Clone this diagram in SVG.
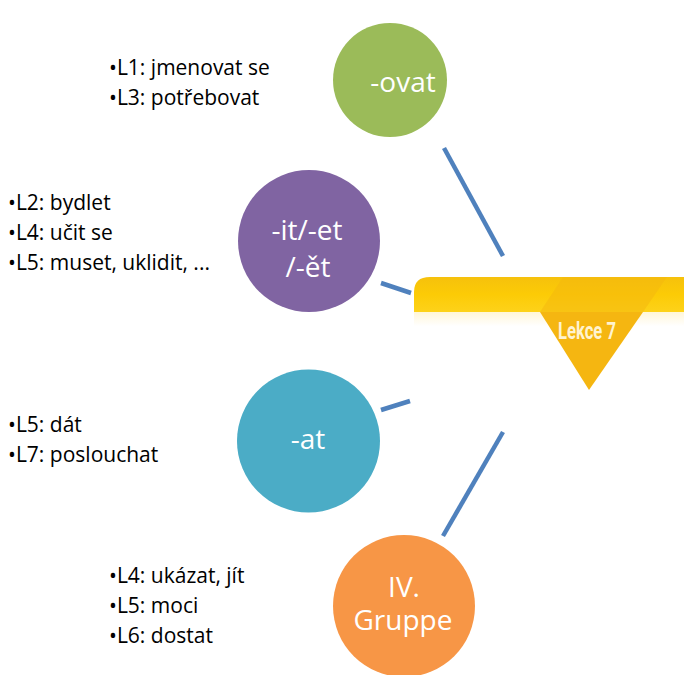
<svg xmlns="http://www.w3.org/2000/svg" width="684" height="675" viewBox="0 0 684 675">
<defs>
<style>
.lbl{font-family:"Open Sans","Noto Sans",sans-serif;font-size:21px;fill:#000}
.ct{font-family:"Open Sans","Noto Sans",sans-serif;font-size:28px;fill:#fff;text-anchor:middle}
.con{stroke:#4F81BD;stroke-width:4.5;fill:none}
</style>
<linearGradient id="band" x1="0" y1="0" x2="0" y2="1">
<stop offset="0" stop-color="#F6C10C"/>
<stop offset="0.5" stop-color="#FCCB06"/>
<stop offset="1" stop-color="#FDD21A"/>
</linearGradient>
<linearGradient id="fade" x1="0" y1="0" x2="0" y2="1">
<stop offset="0" stop-color="#FFF6D8"/>
<stop offset="0.15" stop-color="#FFFFFF"/>
</linearGradient>
</defs>
<rect width="684" height="675" fill="#fff"/>
<g id="connectors">
<line class="con" x1="444" y1="148" x2="503" y2="256"/>
<line class="con" x1="381" y1="283" x2="411" y2="293"/>
<line class="con" x1="381" y1="410" x2="410" y2="401"/>
<line class="con" x1="443" y1="536" x2="503" y2="432"/>
</g>
<g id="lekce7">
<path d="M414 312 V292 Q414 277 430 277 H684 V312 Z" fill="url(#band)"/>
<rect x="414" y="312" width="270" height="95" fill="url(#fade)"/>
<polygon points="563,277 667,277 643,312 540,312" fill="#F4B80E" opacity="0.55"/>
<polygon points="540,312 643,312 589,390" fill="#F5B611"/>
<text x="558" y="339" textLength="58" lengthAdjust="spacingAndGlyphs" font-family="Roboto,'Liberation Sans',sans-serif" font-weight="bold" font-size="23" fill="#FFF3D0">Lekce 7</text>
</g>
<g id="ovat">
<circle cx="390" cy="80" r="57" fill="#9BBB59"/>
<text class="ct" x="403" y="92">-ovat</text>
</g>
<g id="itet">
<circle cx="309" cy="241" r="71" fill="#8064A2"/>
<text class="ct" x="307" y="240">-it/-et</text>
<text class="ct" x="308" y="277">/-ět</text>
</g>
<g id="at">
<circle cx="308.5" cy="441" r="71.5" fill="#4BACC6"/>
<text class="ct" x="308" y="449">-at</text>
</g>
<g id="gruppe">
<circle cx="404" cy="606" r="71" fill="#F79646"/>
<text class="ct" x="404" y="597">IV.</text>
<text class="ct" x="403" y="630">Gruppe</text>
</g>
<g id="labels">
<text class="lbl" x="109" y="75">•L1: jmenovat se</text>
<text class="lbl" x="109" y="105">•L3: potřebovat</text>
<text class="lbl" x="8" y="210">•L2: bydlet</text>
<text class="lbl" x="8" y="240">•L4: učit se</text>
<text class="lbl" x="8" y="270">•L5: muset, uklidit, ...</text>
<text class="lbl" x="8" y="432">•L5: dát</text>
<text class="lbl" x="8" y="462">•L7: poslouchat</text>
<text class="lbl" x="109" y="583">•L4: ukázat, jít</text>
<text class="lbl" x="109" y="613">•L5: moci</text>
<text class="lbl" x="109" y="643">•L6: dostat</text>
</g>
</svg>
